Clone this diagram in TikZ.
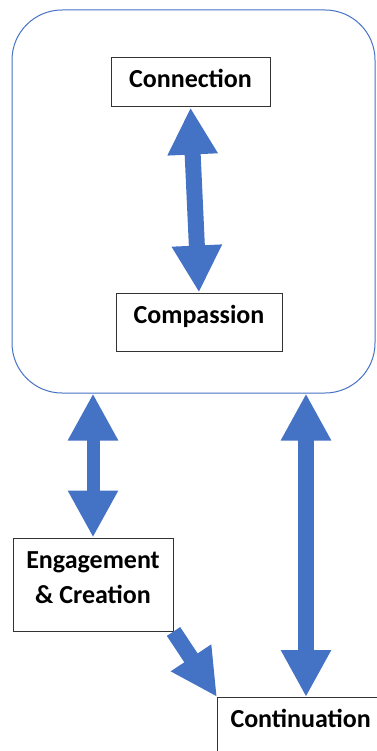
\documentclass[tikz,border=0pt]{standalone}
\usepackage{fontspec}
\setmainfont{Carlito}
\usetikzlibrary{arrows.meta}
\definecolor{arrowblue}{RGB}{68,114,196}

\begin{document}
\begin{tikzpicture}[x=1pt, y=-1pt,
  box/.style={draw=black!80, line width=1pt, fill=white, inner sep=0pt, align=center,
    font=\bfseries\fontsize{26}{35}\selectfont},
  frame/.style={draw=arrowblue, line width=1pt, rounded corners=50pt, inner sep=0pt},
  dblarrow/.style={draw=arrowblue, line width=16pt,
    {Triangle[width=47pt,length=47pt]}-{Triangle[width=47pt,length=47pt]}},
  onearrow/.style={draw=arrowblue, line width=16pt, -{Triangle[width=45pt,length=47pt]}}]
\useasboundingbox (0,0) rectangle (376,751);
\node[frame, minimum width=363pt, minimum height=383pt] (frame) at (193.5,201.5) {};
\node[box, minimum width=159pt, minimum height=49pt, text height=18pt, text depth=7pt] (conn) at (190.5,82.5) {Connection};
\node[box, minimum width=166pt, minimum height=58pt, text height=18pt, text depth=16pt] (comp) at (199,322) {Compassion};
\node[box, minimum width=160pt, minimum height=93pt] (eng) at (93,584.5) {Engagement\\\& Creation\rule[-14pt]{0pt}{14pt}};
\node[box, anchor=north west, align=left, text width=170pt, inner xsep=13pt, text height=30pt, text depth=30pt] (cont) at (217,697) {Continuation};
\coordinate (ctip) at ([xshift=89pt]cont.north west);
\draw[dblarrow] (conn.south) -- (comp.north);
\draw[dblarrow, line width=13pt] (frame.south -| eng.north) -- (eng.north);
\draw[dblarrow] (frame.south -| ctip) -- (ctip);
\draw[onearrow] (eng.south east) -- (cont.north west);
\end{tikzpicture}
\end{document}
